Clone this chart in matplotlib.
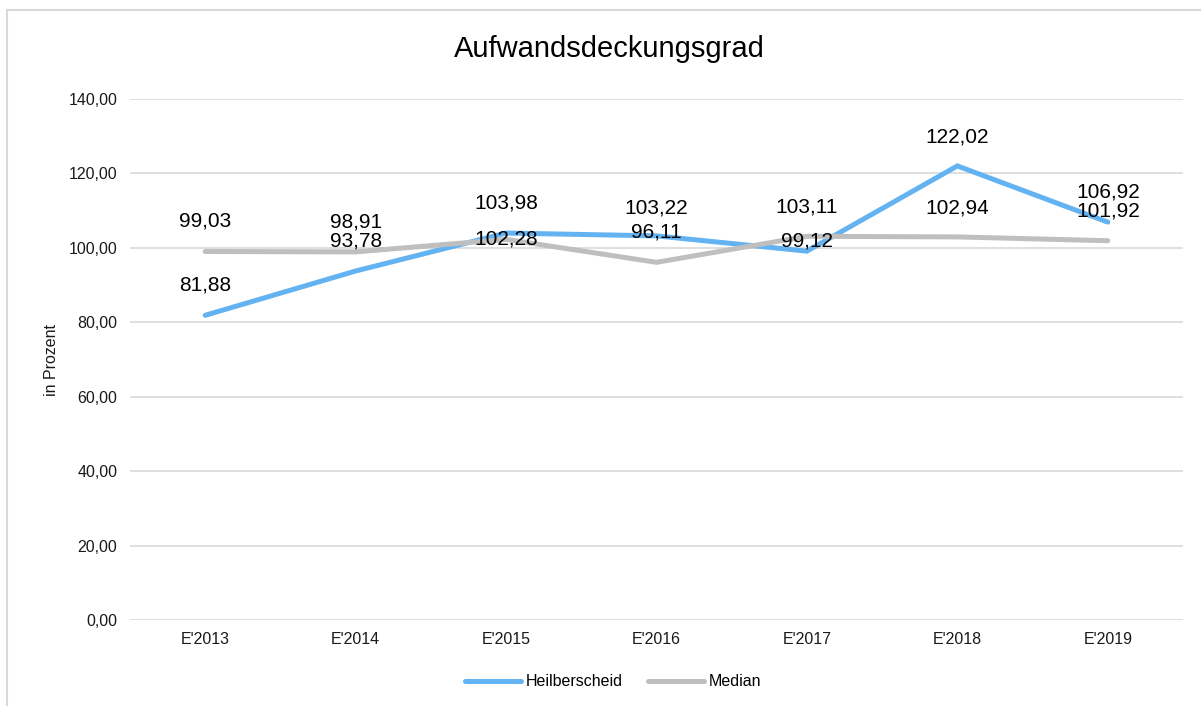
import matplotlib
matplotlib.use("Agg")
import matplotlib.pyplot as plt
from matplotlib.lines import Line2D

plt.rcParams['font.family'] = ['Liberation Sans', 'DejaVu Sans']

# Daten
jahre = ["E'2013", "E'2014", "E'2015", "E'2016", "E'2017", "E'2018", "E'2019"]
heilberscheid = [81.88, 93.78, 103.98, 103.22, 99.12, 122.02, 106.92]
median = [99.03, 98.91, 102.28, 96.11, 103.11, 102.94, 101.92]

# Abstand der Datenbeschriftungen ueber dem Punkt (Pixel)
off_heil = [30, 30, 30, 28, 10, 29, 30]
off_med = [30, 30, 0, 30, 29, 29, 30]

blau = '#63b3f2'
grau = '#bfbfbf'
gitter = '#d9d9d9'


def fmt(v, stellen=2):
    return f"{v:.{stellen}f}".replace('.', ',')


fig = plt.figure(figsize=(12.01, 7.06), dpi=100)
ax = fig.add_axes([130 / 1201, 86 / 706, 1053 / 1201, 521 / 706])

x = list(range(len(jahre)))
ax.plot(x, heilberscheid, color=blau, lw=3.6, solid_capstyle='round',
        solid_joinstyle='miter', label='Heilberscheid', zorder=3)
ax.plot(x, median, color=grau, lw=3.6, solid_capstyle='round',
        solid_joinstyle='miter', label='Median', zorder=4)

for xi, v, o in zip(x, heilberscheid, off_heil):
    ax.annotate(fmt(v), (xi, v), xytext=(0, o), textcoords='offset pixels',
                ha='center', va='center', fontsize=15, color='black', zorder=5)
for xi, v, o in zip(x, median, off_med):
    ax.annotate(fmt(v), (xi, v), xytext=(0, o), textcoords='offset pixels',
                ha='center', va='center', fontsize=15, color='black', zorder=5)

ax.set_xlim(-0.5, len(jahre) - 0.5)
ax.set_ylim(0, 140)
ax.set_yticks(range(0, 141, 20))
ax.set_yticklabels([fmt(t) for t in range(0, 141, 20)])
ax.set_xticks(x)
ax.set_xticklabels(jahre)
ax.tick_params(axis='both', length=0, labelsize=11.5, colors='#1a1a1a')
ax.tick_params(axis='y', pad=9)
ax.tick_params(axis='x', pad=9)
ax.grid(axis='y', color=gitter, lw=1.2)
ax.set_axisbelow(True)
for s in ax.spines.values():
    s.set_visible(False)

fig.text(51 / 1201, 1 - 360 / 706, 'in Prozent', rotation=90, ha='center',
         va='center', fontsize=11.5, color='#1a1a1a')

fig.text(609 / 1201, 1 - 49 / 706, 'Aufwandsdeckungsgrad', ha='center',
         va='center', fontsize=21, color='black')

fig.legend(loc='center', bbox_to_anchor=(613 / 1201, 1 - 682 / 706), ncol=2,
           frameon=False, fontsize=11.5, handlelength=3.5, handletextpad=0.3,
           columnspacing=1.6)

# Rahmen des Diagramms
fig.add_artist(Line2D([7 / 1201, 1], [1 - 10 / 706, 1 - 10 / 706],
                      color=gitter, lw=1.5, transform=fig.transFigure))
fig.add_artist(Line2D([7 / 1201, 7 / 1201], [0, 1 - 10 / 706],
                      color=gitter, lw=1.5, transform=fig.transFigure))

fig.savefig('out.png', dpi=100)
